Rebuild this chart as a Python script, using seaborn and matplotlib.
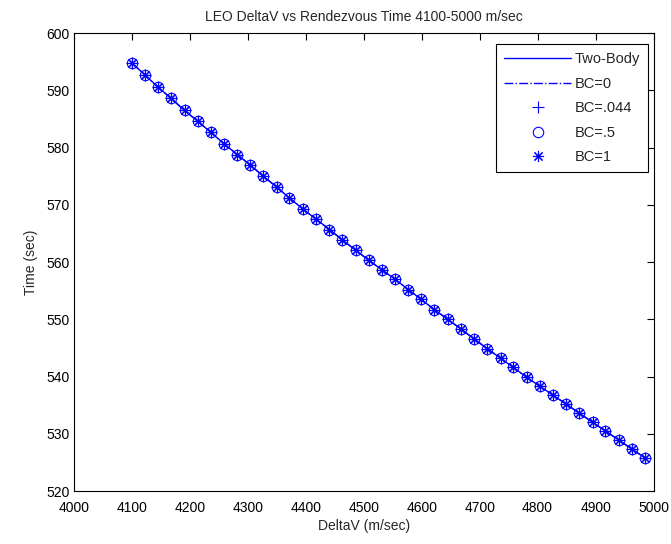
import matplotlib
matplotlib.use("Agg")
import matplotlib.pyplot as plt
import seaborn as sns

# DeltaV (m/sec) sample points
deltav = [4100, 4123, 4145, 4168, 4191, 4214, 4236, 4259, 4282, 4304,
          4327, 4350, 4372, 4395, 4418, 4441, 4463, 4486, 4509, 4531,
          4554, 4577, 4599, 4622, 4645, 4668, 4690, 4713, 4736, 4758,
          4781, 4804, 4826, 4849, 4872, 4895, 4917, 4940, 4963, 4985]

# Rendezvous time (sec) for each model
two_body = [594.8, 592.7, 590.6, 588.6, 586.5, 584.6, 582.7, 580.7, 578.8, 577.0,
            575.0, 573.1, 571.2, 569.3, 567.5, 565.7, 563.9, 562.1, 560.3, 558.7,
            557.0, 555.2, 553.5, 551.7, 550.0, 548.3, 546.6, 544.9, 543.2, 541.6,
            539.9, 538.3, 536.8, 535.2, 533.6, 532.0, 530.5, 528.9, 527.3, 525.8]
bc_0 = list(two_body)
bc_044 = list(two_body)
bc_05 = list(two_body)
bc_1 = list(two_body)

labels = ["Two-Body", "BC=0", "BC=.044", "BC=.5", "BC=1"]
xticks = [4000, 4100, 4200, 4300, 4400, 4500, 4600, 4700, 4800, 4900, 5000]
yticks = [520, 530, 540, 550, 560, 570, 580, 590, 600]

sns.set_style("white")
plt.rcParams['font.family'] = ['Liberation Sans', 'DejaVu Sans']

fig = plt.figure(figsize=(6.71, 5.44), dpi=100)
ax = fig.add_axes([0.110, 0.0974, 0.864, 0.8415])

blue = (0, 0, 1)
sns.lineplot(x=deltav, y=two_body, ax=ax, color=blue, lw=1.0, label=labels[0])
sns.lineplot(x=deltav, y=bc_0, ax=ax, color=blue, lw=1.0, linestyle='-.', label=labels[1])
sns.lineplot(x=deltav, y=bc_044, ax=ax, color=blue, linestyle='none', marker='+',
             markersize=9, markeredgewidth=0.8, markeredgecolor=blue, label=labels[2])
sns.lineplot(x=deltav, y=bc_05, ax=ax, color=blue, linestyle='none', marker='o',
             markersize=7.5, markerfacecolor='none', markeredgecolor=blue,
             markeredgewidth=0.8, label=labels[3])
sns.lineplot(x=deltav, y=bc_1, ax=ax, color=blue, linestyle='none', marker=(8, 2, 0),
             markersize=8, markeredgewidth=0.8, markeredgecolor=blue, label=labels[4])

ax.set_xlim(4000, 5000)
ax.set_ylim(520, 600)
ax.set_xticks(xticks)
ax.set_yticks(yticks)
ax.tick_params(direction='in', length=5, width=0.8, top=True, right=True,
               labelsize=10, colors='black', pad=3)
ax.tick_params(axis='x', pad=7)
for s in ax.spines.values():
    s.set_color('black')
    s.set_linewidth(0.8)

ax.set_title("LEO DeltaV vs Rendezvous Time 4100-5000 m/sec", fontsize=10, pad=9)
ax.set_xlabel("DeltaV (m/sec)", fontsize=10, labelpad=3)
ax.set_ylabel("Time (sec)", fontsize=10, labelpad=6)

leg = ax.legend(loc='upper right', bbox_to_anchor=(0.99, 0.976), borderaxespad=0,
                fontsize=10.5, handlelength=4.6, labelspacing=0.72, borderpad=0.55,
                fancybox=False, frameon=True, edgecolor='black', framealpha=1,
                handletextpad=0.2)
leg.get_frame().set_linewidth(0.8)

fig.savefig("out.png", dpi=100)
